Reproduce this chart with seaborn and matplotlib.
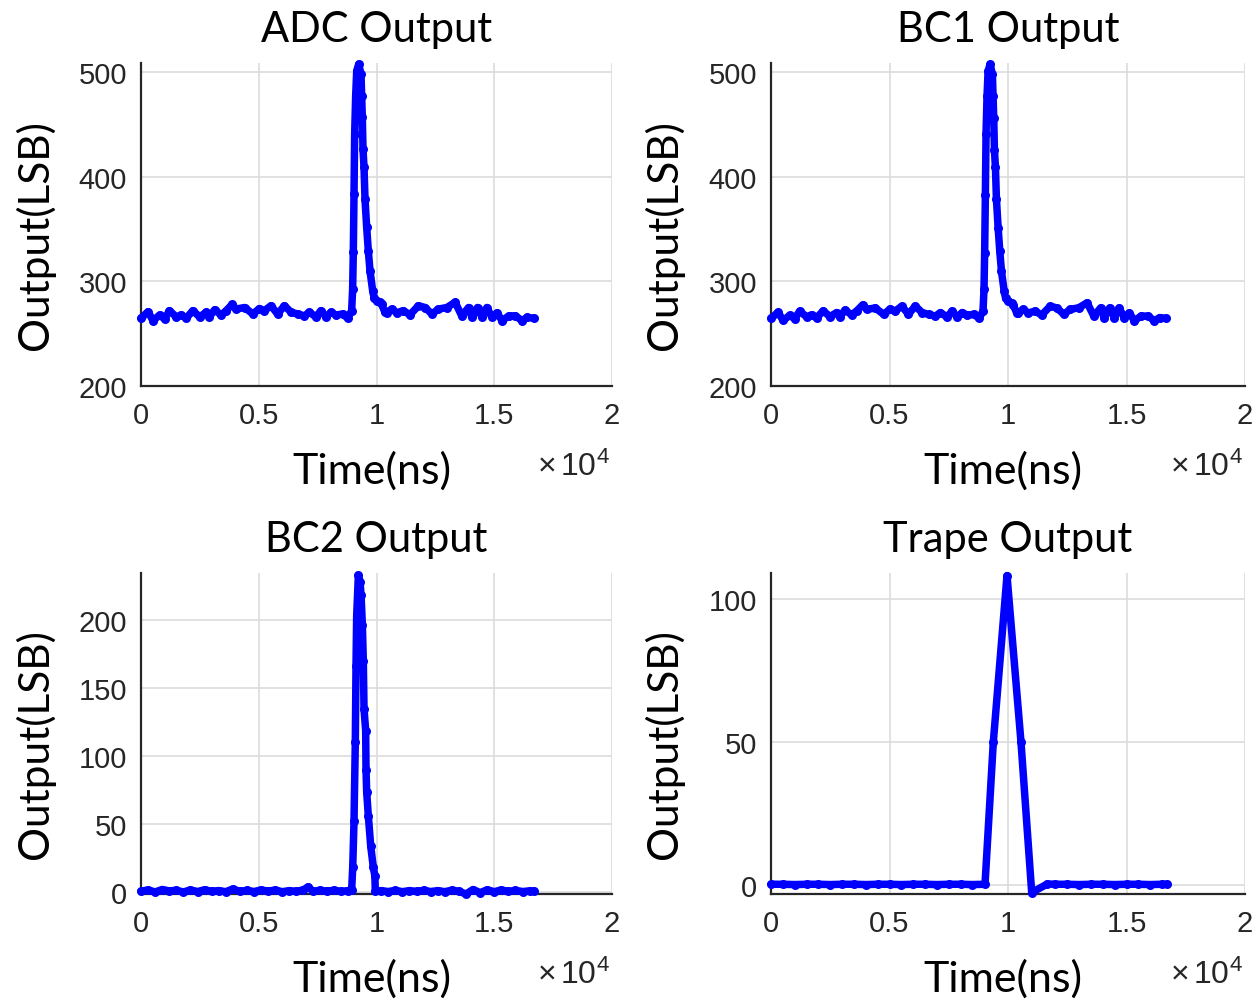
import matplotlib
matplotlib.use("Agg")
import matplotlib.pyplot as plt
import numpy as np
import pandas as pd
import seaborn as sns
from matplotlib.ticker import FuncFormatter

# ---------------- data ----------------
adc_t = [0, 300, 510, 790, 1000, 1210, 1500, 1710, 1920, 2200, 2490, 2770, 2900,
         3130, 3400, 3620, 3870, 4040, 4400, 4750, 5030, 5240, 5520, 5800, 6090,
         6370, 6650, 6940, 7150, 7430, 7640, 7855, 8070, 8280, 8560, 8780, 8945,
         8987, 9015, 9045, 9073, 9115, 9160, 9243, 9342, 9370, 9398, 9427, 9470,
         9512, 9583, 9653, 9724, 9837, 9900, 10000, 10150, 10220, 10360, 10430,
         10640, 10860, 11140, 11420, 11780, 12060, 12350, 12630, 12990, 13340,
         13620, 13910, 14050, 14290, 14480, 14690, 14900, 15120, 15330, 15620,
         15900, 16180, 16400, 16680]
adc_v = [264.7, 271, 262.4, 267.8, 264, 272, 266, 268, 264.7, 272, 266, 270.5, 266,
         272.9, 267.8, 272, 278, 273.5, 275, 268.8, 274, 272, 276.7, 268.8, 276.7,
         270.5, 268.8, 267, 270.5, 266, 272, 266, 270.5, 267.8, 268.8, 264.7, 272,
         292.6, 327.7, 383, 440.7, 477, 501, 507.5, 498, 477, 456.6, 426, 409,
         378.6, 351.6, 329, 310, 291, 284, 281.5, 280, 278, 270.4, 270,
         273.5, 270, 272, 268, 276.7, 275, 268.8, 273.5, 275, 280,
         267, 275, 265.6, 275, 265.6, 275, 265.6, 270, 262.4, 267,
         267, 262.4, 265.6, 264.7]

bc1_t = [0, 300, 510, 790, 1000, 1210, 1500, 1710, 1920, 2200, 2490, 2770, 2900,
         3130, 3400, 3620, 3870, 4040, 4400, 4750, 5030, 5240, 5520, 5800, 6090,
         6370, 6650, 6940, 7150, 7430, 7640, 7855, 8070, 8280, 8560, 8780, 8945,
         8987, 9015, 9045, 9073, 9115, 9160, 9243, 9342, 9370, 9398, 9427, 9470,
         9512, 9583, 9653, 9724, 9837, 9900, 10000, 10150, 10220, 10360, 10430,
         10640, 10860, 11140, 11420, 11780, 12060, 12350, 12630, 12990, 13340,
         13620, 13910, 14050, 14290, 14480, 14690, 14900, 15120, 15330, 15620,
         15900, 16180, 16400, 16680]
bc1_v = [264.5, 270.5, 262.6, 267.5, 264.2, 271.5, 266.2, 268, 265, 271.8, 266.3, 270.2, 266.2,
         272.5, 268, 271.8, 277.5, 273.2, 274.6, 268.5, 273.6, 271.7, 276.2, 268.6, 276.4,
         270.2, 268.4, 266.8, 270.2, 265.8, 271.6, 265.9, 270.2, 267.5, 268.5, 264.6, 271.5,
         292.2, 327.4, 382.6, 440.4, 476.8, 500.8, 507.4, 497.8, 476.8, 456.4, 425.8, 408.8,
         378.4, 351.4, 328.8, 309.8, 290.8, 283.6, 281, 279.5, 277.6, 270.2, 269.6,
         273.2, 269.8, 271.6, 267.8, 276.2, 274.6, 268.6, 273.2, 274.8, 279.5,
         266.8, 274.6, 265.4, 274.6, 265.4, 274.6, 265.4, 269.8, 262.4, 266.8,
         266.8, 262.4, 265.4, 264.5]

bc2_t = [0, 300, 600, 900, 1200, 1500, 1800, 2100, 2400, 2700, 3000, 3300, 3600,
         3900, 4200, 4500, 4800, 5100, 5400, 5700, 6000, 6300, 6600, 6900, 7100,
         7300, 7600, 7900, 8200, 8500, 8800, 8945, 8990, 9045, 9100, 9130, 9158,
         9230, 9300, 9345, 9400, 9440, 9470, 9540, 9555, 9583, 9653, 9753, 9865,
         9930, 9950, 10200, 10500, 10800, 11100, 11400, 11700, 12000, 12300, 12600,
         12900, 13200, 13500, 13800, 14100, 14400, 14700, 15000, 15300, 15600,
         15900, 16200, 16500, 16680]
bc2_v = [0.5, 1.5, 0.0, 1.8, 0.8, 1.2, 0.0, 1.5, 0.3, 1.6, 0.5, 1.0, 0.2,
         2.2, 0.4, 1.2, 0.3, 1.5, 0.6, 1.4, 0.2, 1.0, 0.4, 1.6, 3.8,
         0.5, 1.2, 0.6, 1.3, 0.4, 1.0, 1.5, 18, 52, 110, 166, 203,
         233, 228, 218, 196, 170, 134.6, 118.6, 90, 73.3, 56, 34, 18,
         12, 0.5, 1.0, 0.3, 1.2, 0.2, 1.0, 0.4, 1.2, 0.3, 1.0,
         0.2, 1.3, 0.5, -1.5, 1.8, -0.5, 1.6, 0.2, 1.5, 0.4,
         1.2, 0.3, 0.8, 0.5]

trape_t = [0, 500, 1000, 1500, 2000, 2500, 3000, 3500, 4000, 4500, 5000, 5500,
           6000, 6500, 7000, 7500, 8000, 8500, 9030, 9380, 9958, 10548, 11000,
           11660, 12000, 12500, 13000, 13500, 14000, 14500, 15000, 15500, 16000,
           16500, 16700]
trape_v = [0.3, 0.3, 0.2, 0.3, 0.3, 0.2, 0.3, 0.3, 0.2, 0.3, 0.3, 0.2,
           0.3, 0.3, 0.2, 0.3, 0.3, 0.2, 0.3, 50, 108.2, 50, -2.6,
           0.4, 0.3, 0.3, 0.2, 0.3, 0.3, 0.2, 0.3, 0.3, 0.2,
           0.3, 0.3]

titles = ["ADC Output", "BC1 Output", "BC2 Output", "Trape Output"]
y_ticks = [[200, 300, 400, 500], [200, 300, 400, 500],
           [0, 50, 100, 150, 200], [0, 50, 100]]
y_lims = [(200, 508.6), (200, 508.6), (-1.5, 234.5), (-3.1, 109.1)]
x_ticks = [0, 5000, 10000, 15000, 20000]

series = [(adc_t, adc_v), (bc1_t, bc1_v), (bc2_t, bc2_v), (trape_t, trape_v)]

# ---------------- style ----------------
sns.set_style("white")
plt.rcParams["font.family"] = ["Liberation Sans", "DejaVu Sans"]
plt.rcParams["mathtext.fontset"] = "custom"
plt.rcParams["mathtext.rm"] = "Liberation Sans"
plt.rcParams["mathtext.it"] = "Liberation Sans"

LABEL_FONT = ["Lato", "DejaVu Sans"]
AX_COLOR = "#262626"
GRID_COLOR = "#dcdcdc"
BLUE = "#0000ff"

fig = plt.figure(figsize=(12.55, 10.03), dpi=100)

W, H = 1255, 1003
boxes = [(141, 64, 612, 387), (771, 64, 1245, 387),
         (141, 574, 612, 895), (771, 574, 1245, 895)]

for i, (box, (t, v)) in enumerate(zip(boxes, series)):
    x0, y0, x1, y1 = box
    ax = fig.add_axes([x0 / W, 1 - y1 / H, (x1 - x0) / W, (y1 - y0) / H])
    df = pd.DataFrame({"Time(ns)": t, "Output(LSB)": v})
    sns.lineplot(data=df, x="Time(ns)", y="Output(LSB)", ax=ax, color=BLUE,
                 linewidth=5.4, marker="o", markersize=6.5, markeredgewidth=0,
                 sort=False, estimator=None, clip_on=False, zorder=5)
    ax.set_xlim(0, 20000)
    ax.set_ylim(*y_lims[i])
    ax.set_xticks(x_ticks)
    ax.set_yticks(y_ticks[i])
    ax.xaxis.set_major_formatter(FuncFormatter(lambda x, p: f"{x / 1e4:g}"))
    ax.grid(True, color=GRID_COLOR, linewidth=1.2)
    ax.set_axisbelow(True)
    for s in ["top", "right"]:
        ax.spines[s].set_visible(False)
    for s in ["left", "bottom"]:
        ax.spines[s].set_color(AX_COLOR)
        ax.spines[s].set_linewidth(1.6)
    ax.tick_params(axis="both", direction="in", length=4, width=1.2,
                   colors=AX_COLOR, labelsize=21)
    ax.tick_params(axis="x", pad=11)
    ax.tick_params(axis="y", pad=10)
    for lab in ax.get_xticklabels() + ax.get_yticklabels():
        lab.set_color(AX_COLOR)

    ax.set_title(titles[i], fontsize=30, family=LABEL_FONT, color="black", pad=16)
    ax.set_xlabel("Time(ns)", fontsize=31, family=LABEL_FONT, color="black")
    ax.set_ylabel("Output(LSB)", fontsize=30.5, family=LABEL_FONT, color="black")
    ax.xaxis.set_label_coords(0.49, -0.2)
    ax.yaxis.set_label_coords(-0.183, 0.47)
    ax.text(0.996, -0.25, "\u00d7" + r"$\,10^{4}$", transform=ax.transAxes,
            ha="right", va="center", fontsize=23, color=AX_COLOR)

fig.savefig("out.png", dpi=100)
